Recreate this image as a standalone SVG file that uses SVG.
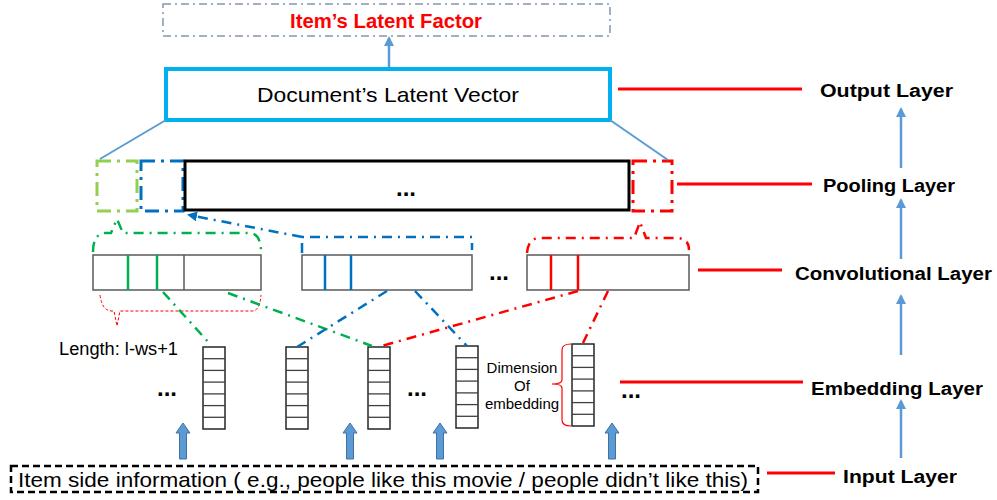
<svg xmlns="http://www.w3.org/2000/svg" width="997" height="500" viewBox="0 0 997 500">
  <defs>
    <style>
      .lbl { font-family: "Liberation Sans", Arial, sans-serif; fill: #000; }
      .layer { font-family: "Liberation Sans", Arial, sans-serif; font-weight: bold; font-size: 18px; fill: #000; }
      .dots { font-family: "Liberation Sans", Arial, sans-serif; font-weight: bold; font-size: 24px; fill: #000; }
      .tick { stroke: #FF0000; stroke-width: 3; fill: none; }
      .up { stroke: #5B9BD5; stroke-width: 2.5; fill: none; marker-end: url(#tri); }
      .conv { fill: #fff; stroke: #595959; stroke-width: 1.5; }
      .emb rect { fill: #fff; stroke: #262626; stroke-width: 1.5; }
      .emb line { stroke: #404040; stroke-width: 1.3; }
      .dd { fill: none; stroke-width: 2.5; stroke-dasharray: 10 6 2 6; }
      .green { stroke: #00B050; }
      .blue { stroke: #0070C0; }
      .red { stroke: #FF0000; }
      .block { fill: #5B9BD5; stroke: #41719C; stroke-width: 1; }
    </style>
    <marker id="tri" viewBox="0 0 10 10" refX="8" refY="5" markerWidth="4" markerHeight="4" orient="auto">
      <path d="M0,0 L10,5 L0,10 Z" fill="#5B9BD5"/>
    </marker>
    <marker id="triBlue" viewBox="0 0 10 10" refX="8" refY="5" markerWidth="4" markerHeight="4" orient="auto">
      <path d="M0,0 L10,5 L0,10 Z" fill="#0070C0"/>
    </marker>
    <path id="blockArrow" d="M0,0 L7,10 L3.5,10 L3.5,36 L-3.5,36 L-3.5,10 L-7,10 Z"/>
    <g id="embCol" class="emb">
      <rect x="0" y="0" width="22" height="82"/>
      <line x1="0" y1="11.7" x2="22" y2="11.7"/>
      <line x1="0" y1="23.4" x2="22" y2="23.4"/>
      <line x1="0" y1="35.1" x2="22" y2="35.1"/>
      <line x1="0" y1="46.9" x2="22" y2="46.9"/>
      <line x1="0" y1="58.6" x2="22" y2="58.6"/>
      <line x1="0" y1="70.3" x2="22" y2="70.3"/>
    </g>
  </defs>

  <rect width="997" height="500" fill="#fff"/>

  <!-- output target -->
  <g id="item-latent">
    <rect x="163" y="4" width="447" height="32" fill="none" stroke="#8497B0" stroke-width="1.5" stroke-dasharray="8 4 2 4"/>
    <text x="386" y="28" text-anchor="middle" font-family="Liberation Sans, Arial, sans-serif" font-weight="bold" font-size="20" fill="#FF0000" textLength="192" lengthAdjust="spacingAndGlyphs">Item’s Latent Factor</text>
  </g>

  <!-- document vector -->
  <g id="doc-vector">
    <rect x="166" y="69" width="444" height="51" fill="#fff" stroke="#00B0F0" stroke-width="4"/>
    <text class="lbl" x="388" y="102" text-anchor="middle" font-size="21" fill="#262626" textLength="262" lengthAdjust="spacingAndGlyphs">Document’s Latent Vector</text>
  </g>

  <!-- pooling layer -->
  <g id="pool-green">
    <rect x="97" y="161" width="40" height="50" fill="none" stroke="#92D050" stroke-width="3" stroke-dasharray="14 6 3 6"/>
  </g>
  <g id="pool-blue">
    <rect x="141" y="161" width="42" height="50" fill="none" stroke="#0070C0" stroke-width="3" stroke-dasharray="14 6 3 6"/>
  </g>
  <g id="pool-main">
    <rect x="185" y="161" width="444" height="49" fill="#fff" stroke="#000" stroke-width="3"/>
    <text class="dots" x="406" y="196" text-anchor="middle" font-size="20">...</text>
  </g>
  <g id="pool-red">
    <rect x="633" y="161" width="39" height="50" fill="none" stroke="#FF0000" stroke-width="3" stroke-dasharray="14 6 3 6"/>
  </g>

  <!-- convolutional layer -->
  <g id="conv-1">
    <rect class="conv" x="93" y="255" width="168" height="35"/>
    <line x1="128" y1="255" x2="128" y2="290" stroke="#00B050" stroke-width="2.5"/>
    <line x1="157" y1="255" x2="157" y2="290" stroke="#00B050" stroke-width="2.5"/>
    <line x1="184" y1="255" x2="184" y2="290" stroke="#595959" stroke-width="1.5"/>
  </g>
  <g id="conv-2">
    <rect class="conv" x="302" y="255" width="170" height="35"/>
    <line x1="325" y1="255" x2="325" y2="290" stroke="#0070C0" stroke-width="2.5"/>
    <line x1="351" y1="255" x2="351" y2="290" stroke="#0070C0" stroke-width="2.5"/>
  </g>
  <text class="dots" x="499" y="280" text-anchor="middle">...</text>
  <g id="conv-3">
    <rect class="conv" x="527" y="255" width="162" height="35"/>
    <line x1="551" y1="255" x2="551" y2="290" stroke="#FF0000" stroke-width="2.5"/>
    <line x1="578" y1="255" x2="578" y2="290" stroke="#FF0000" stroke-width="2.5"/>
  </g>

  <!-- embedding layer -->
  <g id="emb-1"><use href="#embCol" x="203" y="347"/></g>
  <g id="emb-2"><use href="#embCol" x="286" y="347"/></g>
  <g id="emb-3"><use href="#embCol" x="368" y="347"/></g>
  <g id="emb-4"><use href="#embCol" x="456" y="346"/></g>
  <g id="emb-5"><use href="#embCol" x="572" y="344"/></g>
  <text class="dots" x="167" y="396" text-anchor="middle">...</text>
  <text class="dots" x="417" y="396" text-anchor="middle">...</text>
  <text class="dots" x="631" y="398" text-anchor="middle">...</text>

  <g id="length-note">
    <text class="lbl" x="59" y="355" font-size="17.5" textLength="119" lengthAdjust="spacingAndGlyphs">Length: l-ws+1</text>
  </g>
  <g id="dimension-note">
    <text class="lbl" x="522" y="373" font-size="15" text-anchor="middle">Dimension</text>
    <text class="lbl" x="522" y="391" font-size="15" text-anchor="middle">Of</text>
    <text class="lbl" x="522" y="409" font-size="15" text-anchor="middle">embedding</text>
    <path d="M571,344 Q562,344 562,350 L562,380 Q562,384 552,384 Q562,384 562,388 L562,420 Q562,426 571,426" fill="none" stroke="#FF0000" stroke-width="1.2"/>
  </g>

  <!-- input -->
  <g id="input">
    <rect x="11" y="466" width="747" height="26" fill="none" stroke="#000" stroke-width="2.5" stroke-dasharray="7 4"/>
    <text class="lbl" x="18" y="487" font-size="21" fill="#262626" textLength="730" lengthAdjust="spacingAndGlyphs">Item side information ( e.g., people like this movie / people didn’t like this)</text>
  </g>

  <!-- connectors -->
  <g id="connectors">
    <!-- doc vector to item factor -->
    <line class="up" x1="389" y1="67" x2="389" y2="38"/>
    <!-- doc vector fan-out to pooling -->
    <line x1="166" y1="120" x2="100" y2="159" stroke="#5B9BD5" stroke-width="2"/>
    <line x1="610" y1="120" x2="668" y2="160" stroke="#5B9BD5" stroke-width="2"/>

    <!-- max-pooling braces -->
    <path class="dd green" d="M93,252 Q93,234 105,233 L111,233 L117,219 L123,233 L250,233 Q261,234 261,252"/>
    <path class="dd blue" d="M302,253 L302,237 L472,237 L472,250"/>
    <path class="dd blue" d="M302,237 L189,215" marker-end="url(#triBlue)"/>
    <path class="dd red" d="M527,253 Q528,238 540,238 L634,238 L640,222 L646,238 L678,238 Q689,239 689,250"/>

    <!-- length brace -->
    <path d="M100,295 Q102,311 112,311 L114,311 L117,326 L120,311 L252,311 Q260,311 261,295" fill="none" stroke="#FF0000" stroke-width="1" stroke-dasharray="3 2"/>

    <!-- filter windows back to embeddings -->
    <line class="dd green" x1="163" y1="292" x2="210" y2="344"/>
    <line class="dd green" x1="228" y1="293" x2="372" y2="346"/>
    <line class="dd blue" x1="387" y1="291" x2="297" y2="347"/>
    <line class="dd blue" x1="415" y1="291" x2="467" y2="346"/>
    <line class="dd red" x1="578" y1="291" x2="378" y2="347"/>
    <line class="dd red" x1="608" y1="291" x2="583" y2="343"/>

    <!-- input arrows -->
    <use href="#blockArrow" class="block" x="183" y="423"/>
    <use href="#blockArrow" class="block" x="350" y="423"/>
    <use href="#blockArrow" class="block" x="440" y="423"/>
    <use href="#blockArrow" class="block" x="612" y="423"/>

    <!-- layer legend ticks -->
    <line class="tick" x1="618" y1="89" x2="802" y2="89"/>
    <line class="tick" x1="677" y1="184" x2="812" y2="184"/>
    <line class="tick" x1="698" y1="270" x2="782" y2="270"/>
    <line class="tick" x1="620" y1="382" x2="803" y2="382"/>
    <line class="tick" x1="767" y1="473" x2="835" y2="473"/>

    <!-- layer order arrows -->
    <line class="up" x1="901" y1="458" x2="901" y2="401"/>
    <line class="up" x1="901" y1="355" x2="901" y2="296"/>
    <line class="up" x1="901" y1="259" x2="901" y2="200"/>
    <line class="up" x1="901" y1="168" x2="901" y2="109"/>
  </g>

  <!-- layer names -->
  <g id="layer-names">
    <text class="layer" x="820" y="97" textLength="133" lengthAdjust="spacingAndGlyphs">Output  Layer</text>
    <text class="layer" x="823" y="192" textLength="132" lengthAdjust="spacingAndGlyphs">Pooling Layer</text>
    <text class="layer" x="795" y="280" textLength="197" lengthAdjust="spacingAndGlyphs">Convolutional Layer</text>
    <text class="layer" x="811" y="395" textLength="172" lengthAdjust="spacingAndGlyphs">Embedding Layer</text>
    <text class="layer" x="843" y="483" textLength="114" lengthAdjust="spacingAndGlyphs">Input  Layer</text>
  </g>
</svg>
